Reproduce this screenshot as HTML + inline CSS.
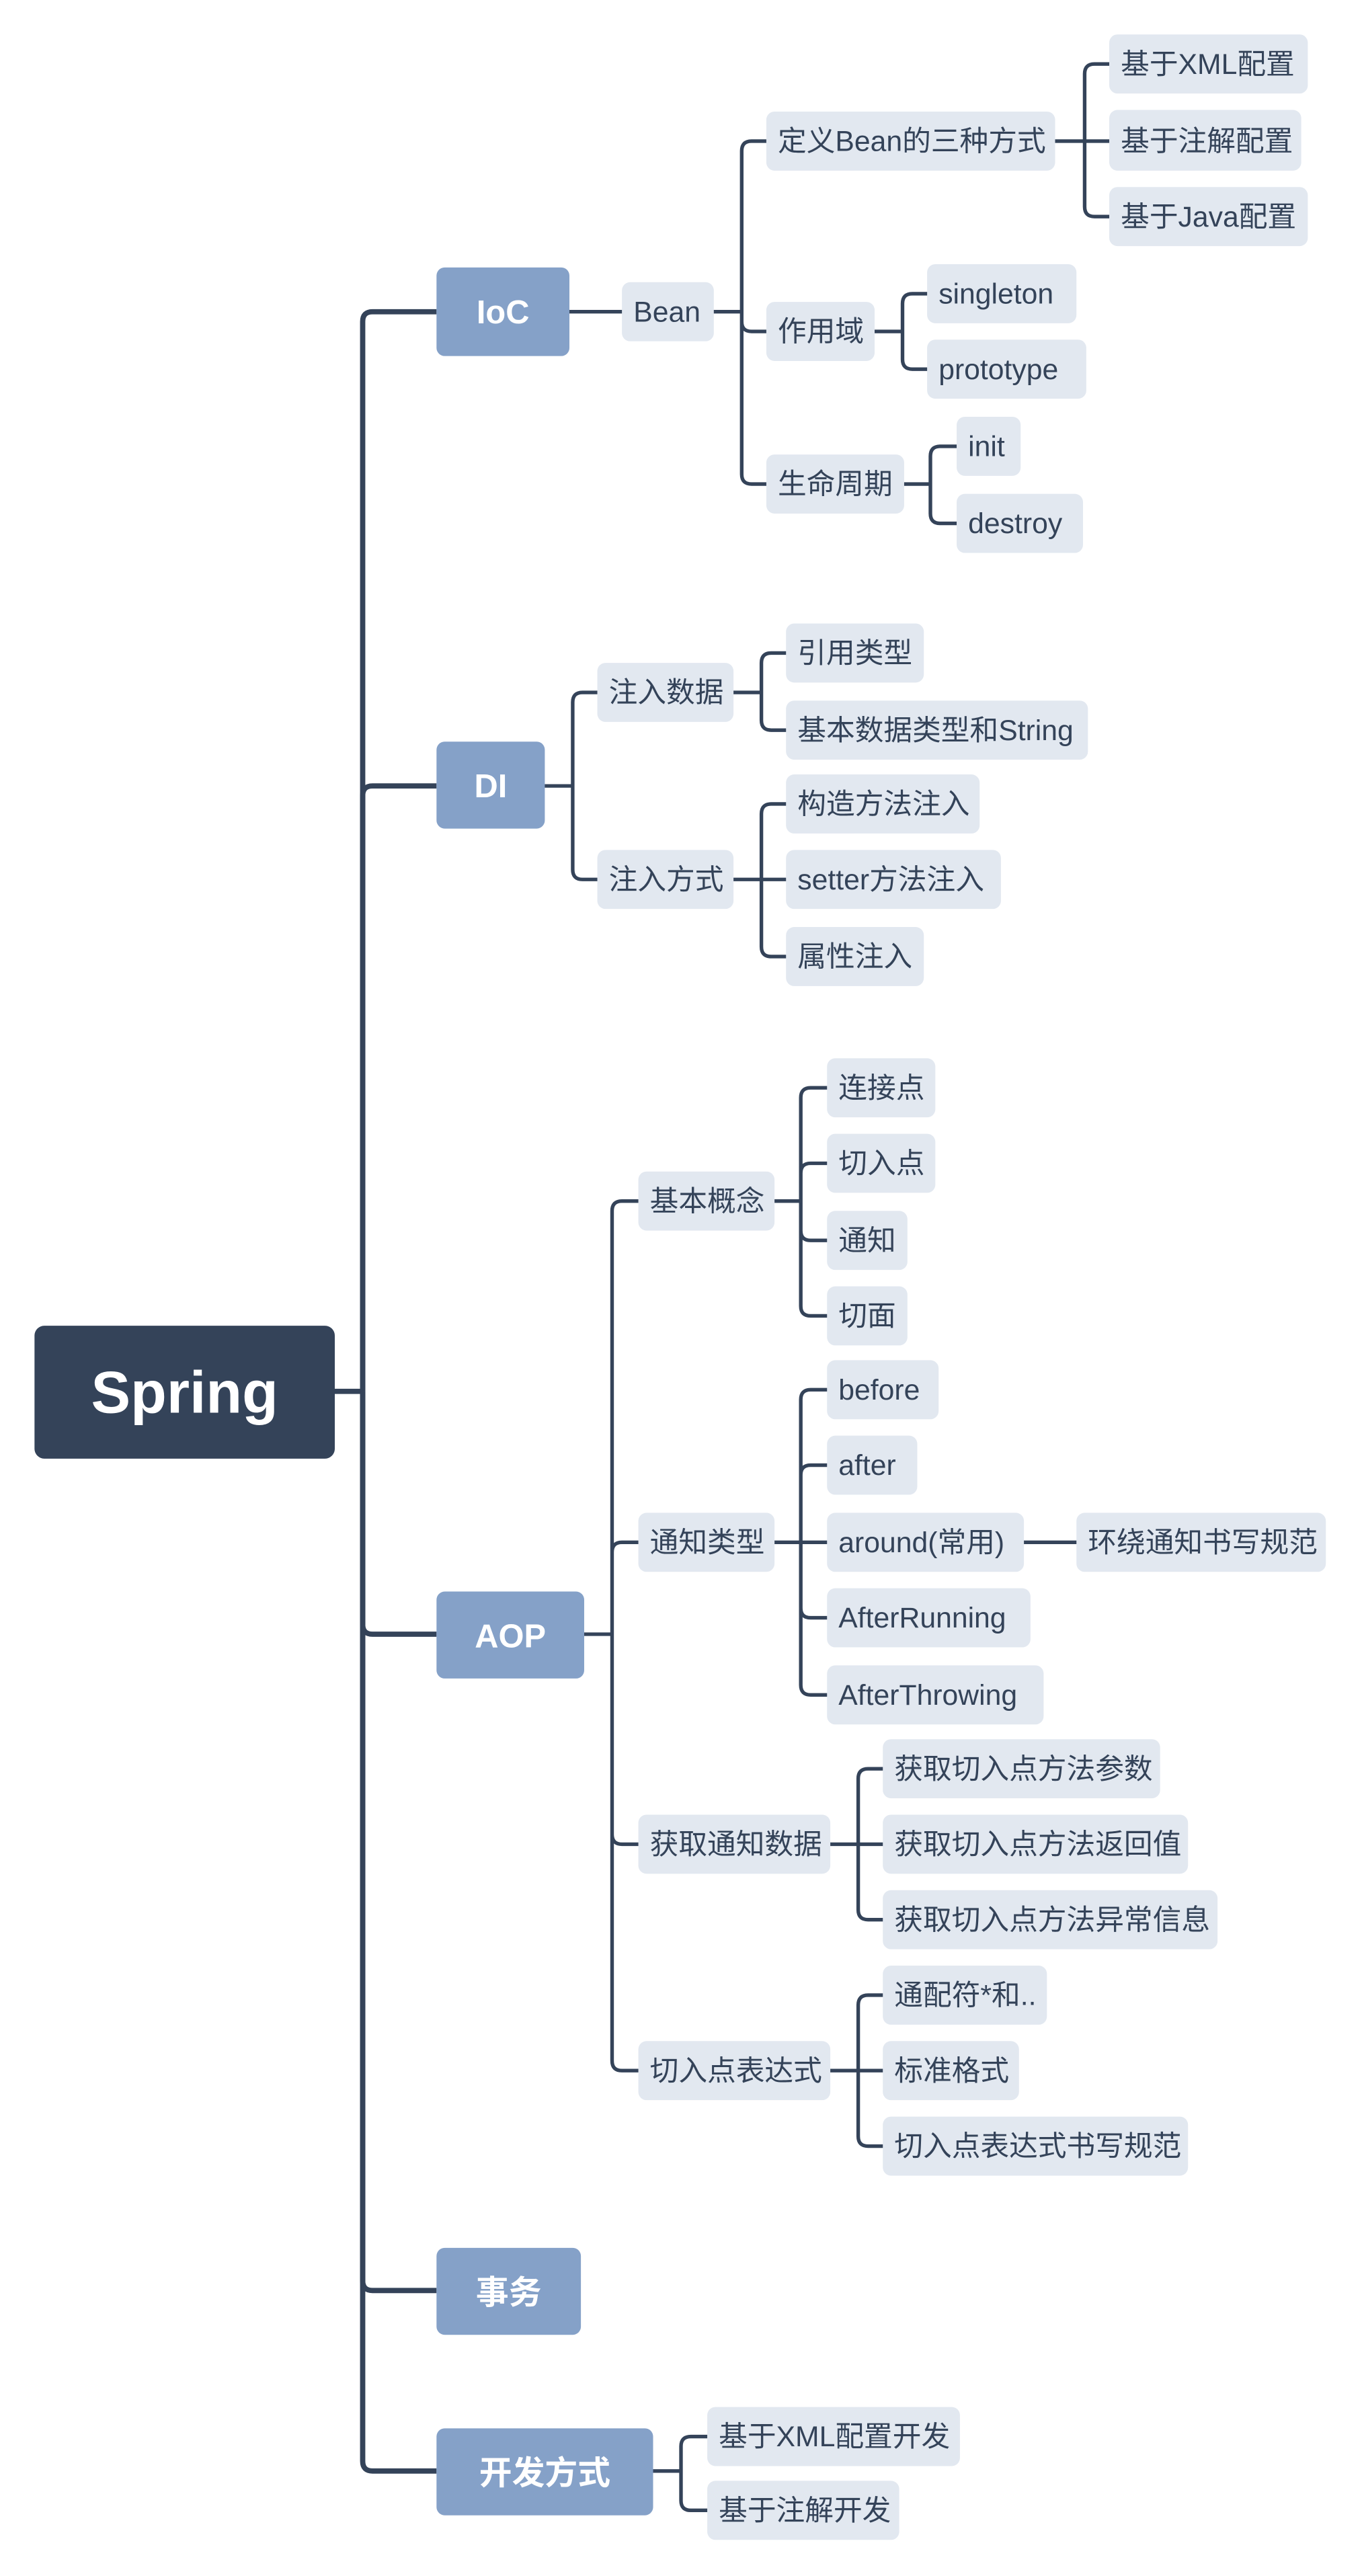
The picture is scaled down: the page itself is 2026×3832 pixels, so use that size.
<!DOCTYPE html>
<html><head><meta charset="utf-8"><style>
html,body{margin:0;padding:0;background:#fff;}
svg{display:block;}
text{font-family:"Liberation Sans","Noto Sans CJK SC",sans-serif;}
.l{fill:#e2e8f0;}
.t{fill:#344359;font-size:17.5px;}
.m{fill:#85a1c8;}
.mt{fill:#fff;font-size:20px;font-weight:bold;text-anchor:middle;}
.c{fill:none;stroke:#344359;stroke-width:2.2;stroke-linecap:round;}
.tr{fill:none;stroke:#344359;stroke-width:3.2;}
</style></head><body>
<svg width="2026" height="3832" viewBox="0 0 830 1570" xmlns="http://www.w3.org/2000/svg">
<g class="tr">
<path d="M204 848 H221"/>
<path d="M221 848 V196 Q221 190 227 190 H266"/>
<path d="M221 848 V485 Q221 479 227 479 H266"/>
<path d="M221 848 V990 Q221 996 227 996 H266"/>
<path d="M221 848 V1390 Q221 1396 227 1396 H266"/>
<path d="M221 848 V1500 Q221 1506 227 1506 H266"/>
</g>
<g class="c">
<path d="M347 190 H379"/>
<path d="M435 190 H452 M452 190 V92 Q452 86 458 86 H467 M452 190 V196 Q452 202 458 202 H467 M452 190 V289 Q452 295 458 295 H467"/>
<path d="M643 86 H676 M661 86 V45 Q661 39 667 39 H676 M661 86 V126 Q661 132 667 132 H676"/>
<path d="M533 202 H550 M550 202 V185 Q550 179 556 179 H565 M550 202 V219 Q550 225 556 225 H565"/>
<path d="M551 295 H567 M567 295 V278 Q567 272 573 272 H583 M567 295 V313 Q567 319 573 319 H583"/>
<path d="M332 479 H349 M349 479 V428 Q349 422 355 422 H364 M349 479 V530 Q349 536 355 536 H364"/>
<path d="M447 422 H464 M464 422 V404 Q464 398 470 398 H479 M464 422 V439 Q464 445 470 445 H479"/>
<path d="M447 536 H479 M464 536 V496 Q464 490 470 490 H479 M464 536 V577 Q464 583 470 583 H479"/>
<path d="M356 996 H373 M373 996 V738 Q373 732 379 732 H389 M373 996 V946 Q373 940 379 940 H389 M373 996 V1118 Q373 1124 379 1124 H389 M373 996 V1256 Q373 1262 379 1262 H389"/>
<path d="M472 732 H488 M488 732 V669 Q488 663 494 663 H504 M488 732 V715 Q488 709 494 709 H504 M488 732 V750 Q488 756 494 756 H504 M488 732 V796 Q488 802 494 802 H504"/>
<path d="M472 940 H504 M488 940 V853 Q488 847 494 847 H504 M488 940 V899 Q488 893 494 893 H504 M488 940 V980 Q488 986 494 986 H504 M488 940 V1027 Q488 1033 494 1033 H504"/>
<path d="M624 940 H656"/>
<path d="M506 1124 H538 M523 1124 V1084 Q523 1078 529 1078 H538 M523 1124 V1164 Q523 1170 529 1170 H538"/>
<path d="M506 1262 H538 M523 1262 V1222 Q523 1216 529 1216 H538 M523 1262 V1302 Q523 1308 529 1308 H538"/>
<path d="M398 1506 H415 M415 1506 V1491 Q415 1485 421 1485 H431 M415 1506 V1524 Q415 1530 421 1530 H431"/>
</g>
<rect x="21" y="808" width="183" height="81" rx="6" fill="#344359"/>
<text x="112.5" y="861" fill="#fff" font-size="36" font-weight="bold" text-anchor="middle">Spring</text>
<rect class="m" x="266" y="163" width="81" height="54" rx="5"/><text class="mt" x="306.5" y="197">IoC</text>
<rect class="m" x="266" y="452" width="66" height="53" rx="5"/><text class="mt" x="299" y="486">DI</text>
<rect class="m" x="266" y="970" width="90" height="53" rx="5"/><text class="mt" x="311" y="1004">AOP</text>
<rect class="m" x="266" y="1370" width="88" height="53" rx="5"/><text class="mt" x="310" y="1404">事务</text>
<rect class="m" x="266" y="1480" width="132" height="53" rx="5"/><text class="mt" x="332" y="1514">开发方式</text>
<g>
<rect class="l" x="379" y="172" width="56" height="36" rx="5"/><text class="t" x="386" y="196">Bean</text>
<rect class="l" x="467" y="68" width="176" height="36" rx="5"/><text class="t" x="474" y="92">定义Bean的三种方式</text>
<rect class="l" x="467" y="184" width="66" height="36" rx="5"/><text class="t" x="474" y="208">作用域</text>
<rect class="l" x="467" y="277" width="84" height="36" rx="5"/><text class="t" x="474" y="301">生命周期</text>
<rect class="l" x="676" y="21" width="121" height="36" rx="5"/><text class="t" x="683" y="45">基于XML配置</text>
<rect class="l" x="676" y="67" width="117" height="37" rx="5"/><text class="t" x="683" y="92">基于注解配置</text>
<rect class="l" x="676" y="114" width="121" height="36" rx="5"/><text class="t" x="683" y="138">基于Java配置</text>
<rect class="l" x="565" y="161" width="91" height="36" rx="5"/><text class="t" x="572" y="185">singleton</text>
<rect class="l" x="565" y="207" width="97" height="36" rx="5"/><text class="t" x="572" y="231">prototype</text>
<rect class="l" x="583" y="254" width="39" height="36" rx="5"/><text class="t" x="590" y="278">init</text>
<rect class="l" x="583" y="301" width="77" height="36" rx="5"/><text class="t" x="590" y="325">destroy</text>

<rect class="l" x="364" y="404" width="83" height="36" rx="5"/><text class="t" x="371" y="428">注入数据</text>
<rect class="l" x="364" y="518" width="83" height="36" rx="5"/><text class="t" x="371" y="542">注入方式</text>
<rect class="l" x="479" y="380" width="84" height="36" rx="5"/><text class="t" x="486" y="404">引用类型</text>
<rect class="l" x="479" y="427" width="184" height="36" rx="5"/><text class="t" x="486" y="451">基本数据类型和String</text>
<rect class="l" x="479" y="472" width="118" height="36" rx="5"/><text class="t" x="486" y="496">构造方法注入</text>
<rect class="l" x="479" y="518" width="131" height="36" rx="5"/><text class="t" x="486" y="542">setter方法注入</text>
<rect class="l" x="479" y="565" width="84" height="36" rx="5"/><text class="t" x="486" y="589">属性注入</text>

<rect class="l" x="389" y="714" width="83" height="36" rx="5"/><text class="t" x="396" y="738">基本概念</text>
<rect class="l" x="389" y="922" width="83" height="36" rx="5"/><text class="t" x="396" y="946">通知类型</text>
<rect class="l" x="389" y="1106" width="117" height="36" rx="5"/><text class="t" x="396" y="1130">获取通知数据</text>
<rect class="l" x="389" y="1244" width="117" height="36" rx="5"/><text class="t" x="396" y="1268">切入点表达式</text>
<rect class="l" x="504" y="645" width="66" height="36" rx="5"/><text class="t" x="511" y="669">连接点</text>
<rect class="l" x="504" y="691" width="66" height="36" rx="5"/><text class="t" x="511" y="715">切入点</text>
<rect class="l" x="504" y="738" width="49" height="36" rx="5"/><text class="t" x="511" y="762">通知</text>
<rect class="l" x="504" y="784" width="49" height="36" rx="5"/><text class="t" x="511" y="808">切面</text>
<rect class="l" x="504" y="829" width="68" height="36" rx="5"/><text class="t" x="511" y="853">before</text>
<rect class="l" x="504" y="875" width="55" height="36" rx="5"/><text class="t" x="511" y="899">after</text>
<rect class="l" x="504" y="922" width="120" height="36" rx="5"/><text class="t" x="511" y="946">around(常用)</text>
<rect class="l" x="504" y="968" width="124" height="36" rx="5"/><text class="t" x="511" y="992">AfterRunning</text>
<rect class="l" x="504" y="1015" width="132" height="36" rx="5"/><text class="t" x="511" y="1039">AfterThrowing</text>
<rect class="l" x="656" y="922" width="152" height="36" rx="5"/><text class="t" x="663" y="946">环绕通知书写规范</text>
<rect class="l" x="538" y="1060" width="169" height="36" rx="5"/><text class="t" x="545" y="1084">获取切入点方法参数</text>
<rect class="l" x="538" y="1106" width="186" height="36" rx="5"/><text class="t" x="545" y="1130">获取切入点方法返回值</text>
<rect class="l" x="538" y="1152" width="204" height="36" rx="5"/><text class="t" x="545" y="1176">获取切入点方法异常信息</text>
<rect class="l" x="538" y="1198" width="100" height="36" rx="5"/><text class="t" x="545" y="1222">通配符*和..</text>
<rect class="l" x="538" y="1244" width="83" height="36" rx="5"/><text class="t" x="545" y="1268">标准格式</text>
<rect class="l" x="538" y="1290" width="186" height="36" rx="5"/><text class="t" x="545" y="1314">切入点表达式书写规范</text>

<rect class="l" x="431" y="1467" width="154" height="36" rx="5"/><text class="t" x="438" y="1491">基于XML配置开发</text>
<rect class="l" x="431" y="1512" width="117" height="36" rx="5"/><text class="t" x="438" y="1536">基于注解开发</text>
</g>
</svg>
</body></html>
